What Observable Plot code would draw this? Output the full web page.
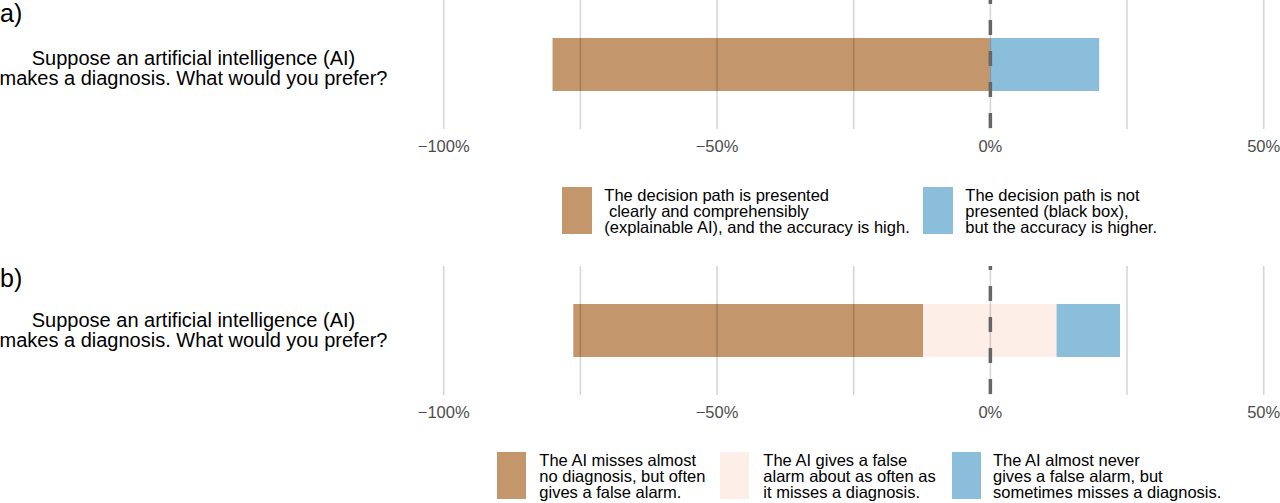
<!DOCTYPE html>
<html><head><meta charset="utf-8">
<script src="https://cdn.jsdelivr.net/npm/d3@7"></script>
<script src="https://cdn.jsdelivr.net/npm/@observablehq/plot@0.6"></script>
<style>
html,body{margin:0;padding:0;background:#fff;}
#root{position:relative;width:1280px;height:503px;overflow:hidden;font-family:"Liberation Sans",Arial,Helvetica,sans-serif;background:#fff;}
.tag{position:absolute;font-size:25px;line-height:26px;color:#000;}
.key{position:absolute;}
.lab{position:absolute;font-size:16.5px;line-height:15.65px;white-space:pre;color:#000;}
.panel{position:absolute;left:0;}
</style></head><body><div id="root"></div>
<script>
// ---- data ----
const question = "Suppose an artificial intelligence (AI)\nmakes a diagnosis. What would you prefer?";
const tickValues = [-100, -50, 0, 50];
const gridValues = [-100, -75, -50, -25, 0, 25, 50];

const aCategories = [
  "The decision path is presented\n clearly and comprehensibly\n(explainable AI), and the accuracy is high.",
  "The decision path is not\npresented (black box),\nbut the accuracy is higher."
];
const aValues = [80, 20];
const aColors = ["#C4966B", "#8BBEDB"];

const bCategories = [
  "The AI misses almost\nno diagnosis, but often\ngives a false alarm.",
  "The AI gives a false\nalarm about as often as\nit misses a diagnosis.",
  "The AI almost never\ngives a false alarm, but\nsometimes misses a diagnosis."
];
const bValues = [64.0, 24.4, 11.6];
const bColors = ["#C4966B", "#FDEEE7", "#8BBEDB"];

// ---- layout (positions only) ----
const FONT = '"Liberation Sans", Arial, Helvetica, sans-serif';
const layout = {
  a: {tag: ["a)", 0, 0], svgTop: 0, qdy: 3.5,
      keys: [[562.3, 604.3], [923.3, 965.3]], keyTop: 186.5, textTop: 188.2},
  b: {tag: ["b)", 0, 265], svgTop: 266, qdy: 0,
      keys: [[496.7, 539.3], [720, 763.3], [951.5, 993]], keyTop: 451.5, textTop: 453.2}
};

// diverging rows: first category negative, last positive, middle (if 3) neutral split at 0
function divergingRows(cats, vals) {
  const n = cats.length;
  let neg = vals[0], neutral = n === 3 ? vals[1] : 0;
  let start = -(neg + neutral / 2);
  return cats.map((c, i) => {
    const r = {cat: c, x1: start, x2: start + vals[i], q: question};
    start += vals[i];
    return r;
  });
}

const fmt = d => d === 0 ? "0%" : (d < 0 ? "\u2212" : "") + Math.abs(d) + "%";

function panel(cats, vals, colors, qdy) {
  const rows = divergingRows(cats, vals);
  return Plot.plot({
    width: 1280, height: 165,
    marginTop: 0, marginBottom: 36, marginLeft: 443.2, marginRight: 16.8,
    x: {domain: [-100, 50], axis: null, label: null},
    y: {domain: [question], padding: 0.417, axis: null, label: null},
    color: {domain: cats, range: colors},
    style: {fontFamily: FONT, overflow: "visible", background: "transparent"},
    marks: [
      Plot.barX(rows, {x1: "x1", x2: "x2", y: "q", fill: "cat"}),
      Plot.gridX(gridValues, {stroke: "#000", strokeOpacity: 0.16, strokeWidth: 1.6}),
      Plot.ruleX([0], {stroke: "#666666", strokeWidth: 3.5, strokeDasharray: "15 16", strokeDashoffset: 11}),
      Plot.axisX(tickValues, {tickSize: 0, tickPadding: 10.8, fontSize: 16.5, fill: "#4D4D4D", tickFormat: fmt, label: null}),
      Plot.text([question], {frameAnchor: "left", y: d => d, text: d => d, dx: 193 - 443.2, dy: qdy,
        textAnchor: "middle", lineHeight: 1.0, fontSize: 20, fill: "#000"})
    ]
  });
}

const root = document.getElementById("root");
function addPanel(L, cats, vals, colors) {
  const p = panel(cats, vals, colors, L.qdy);
  const wrap = document.createElement("div");
  wrap.className = "panel"; wrap.style.top = L.svgTop + "px";
  wrap.appendChild(p);
  root.appendChild(wrap);
  const t = document.createElement("div");
  t.className = "tag"; t.textContent = L.tag[0];
  t.style.left = L.tag[1] + "px"; t.style.top = L.tag[2] + "px";
  root.appendChild(t);
  cats.forEach((c, i) => {
    const k = document.createElement("div");
    k.className = "key";
    k.style.left = L.keys[i][0] + "px"; k.style.top = L.keyTop + "px";
    k.style.width = "29.4px"; k.style.height = "47.5px"; k.style.background = colors[i];
    const lab = document.createElement("div");
    lab.className = "lab"; lab.textContent = c;
    lab.style.left = L.keys[i][1] + "px"; lab.style.top = L.textTop + "px";
    root.appendChild(k); root.appendChild(lab);
  });
}
addPanel(layout.a, aCategories, aValues, aColors);
addPanel(layout.b, bCategories, bValues, bColors);
</script></body></html>
